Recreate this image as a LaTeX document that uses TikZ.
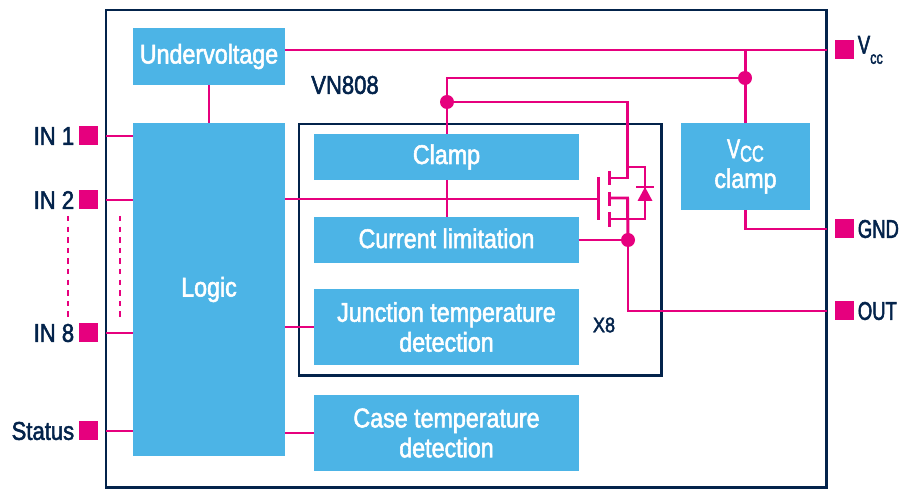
\documentclass[tikz,border=0pt]{standalone}
\usepackage{xcolor}
\usepackage{fontspec}
\usepackage{tikz}
\usetikzlibrary{positioning, fit}
\setmainfont[FakeStretch=0.86,FakeBold=2]{Liberation Sans}
\newfontfamily\capsfont[FakeStretch=0.72,FakeBold=2]{Liberation Sans}
\definecolor{stblue}{HTML}{4CB4E6}
\definecolor{stpink}{HTML}{E6007E}
\definecolor{stnavy}{HTML}{03234B}

\begin{document}
\begin{tikzpicture}[
    x=0.02cm, y=-0.02cm,
    block/.style={rectangle, fill=stblue, text=white, align=center, inner sep=0pt, outer sep=0pt,
                  font=\fontsize{15.4pt}{17pt}\selectfont},
    frame/.style={rectangle, draw=stnavy, line width=1.7pt, inner sep=0pt, outer sep=0pt},
    pad/.style={rectangle, fill=stpink, minimum size=0.38cm, inner sep=0pt, outer sep=0pt},
    pin/.style={text=stnavy, inner sep=0pt, font=\fontsize{14.6pt}{17pt}\selectfont},
    wire/.style={draw=stpink, line width=1.7pt},
    joint/.style={circle, fill=stpink, minimum size=0.28cm, inner sep=0pt, outer sep=0pt},
  ]
  \useasboundingbox (0,0) rectangle (900,489);

  % outer and inner frame
  \node[frame, minimum width=14.42cm, minimum height=9.56cm, anchor=north west] (chip) at (106,10) {};
  \node[frame, minimum width=7.26cm, minimum height=5.04cm, anchor=north west] (channel) at (299,124) {};

  % blocks
  \node[block, minimum width=3.04cm, minimum height=1.14cm] (undervoltage) at (209,56.5) {Undervoltage};
  \node[block, minimum width=3.04cm, minimum height=6.66cm] (logic) at (209,289.5) {Logic};
  \node[block, minimum width=5.3cm, minimum height=0.92cm] (clamp) at (446.5,157) {Clamp};
  \node[block, minimum width=5.3cm, minimum height=0.92cm] (current) at (446.5,240) {\raisebox{2pt}{Current limitation}};
  \node[block, minimum width=5.3cm, minimum height=1.52cm] (junction) at (446.5,327) {Junction temperature\\detection};
  \node[block, minimum width=5.3cm, minimum height=1.52cm] (case) at (446.5,433) {Case temperature\\detection};
  \node[block, minimum width=2.58cm, minimum height=1.74cm] (vccclamp) at (745.5,166.5) {{\capsfont V\raisebox{-0.25ex}{\fontsize{13pt}{15pt}\selectfont CC}}\\clamp};

  \node[pin] (vn) at (345,85) {VN808};
  \node[pin, font=\fontsize{12pt}{14pt}\selectfont] (xeight) at (604,325) {X8};

  % pads and pin names
  \node[pad] (in1) at (88.5,136) {};
  \node[pad] (in2) at (88.5,200) {};
  \node[pad] (in8) at (88.5,333) {};
  \node[pad] (status) at (88.5,431) {};
  \node[pad] (vcc) at (844.5,50) {};
  \node[pad] (gnd) at (844.5,229) {};
  \node[pad] (out) at (844.5,311) {};
  \node[pin, left=0.09cm of in1] (in1name) {IN 1};
  \node[pin, left=0.09cm of in2] (in2name) {IN 2};
  \node[pin, left=0.09cm of in8] (in8name) {IN 8};
  \node[pin, left=0.09cm of status] (statusname) {Status};
  \node[pin, right=0.07cm of vcc] (vccname) {\capsfont V\raisebox{-0.75ex}{\fontsize{10pt}{12pt}\selectfont cc}};
  \node[pin, right=0.07cm of gnd] (gndname) {\capsfont GND};
  \node[pin, right=0.07cm of out] (outname) {\capsfont OUT};

  % joints
  \node[joint] (jvcc) at (745,78) {};
  \node[joint] (jclamp) at (447,102) {};
  \node[joint] (jout) at (628,240) {};

  % wires
  \draw[wire] (in1 -| chip.west) -- (in1 -| logic.west);
  \draw[wire] (in2 -| chip.west) -- (in2 -| logic.west);
  \draw[wire] (in8 -| chip.west) -- (in8 -| logic.west);
  \draw[wire] (status -| chip.west) -- (status -| logic.west);
  \draw[wire] (undervoltage) -- (logic);
  \draw[wire] (vcc -| undervoltage.east) -- (vcc -| chip.east);
  \draw[wire] (vcc -| vccclamp.north) -- (vccclamp.north);
  \draw[wire] (jvcc.center) -| (clamp.north -| jclamp);
  \draw[wire] (clamp.south -| jclamp) -- (current.north -| jclamp);
  \draw[wire] (vccclamp.south) |- (gnd -| chip.east);
  \draw[wire] (current.east) -- (jout.center);
  \draw[wire] (jout.center) |- (out -| chip.east);
  \draw[wire] (junction.west -| logic.east) -- (junction.west);
  \draw[wire] (case.west -| logic.east) -- (case.west);
  \draw[wire, dash pattern=on 0.11cm off 0.102cm] (68,216) -- (68,318);
  \draw[wire, dash pattern=on 0.11cm off 0.102cm] (120,216) -- (120,318);

  % transistor
  \draw[wire] (logic.east |- 0,199) -- (598.5,199);
  \draw[wire] (598.5,177) -- (598.5,220);
  \draw[wire] (609.5,171) -- (609.5,185);
  \draw[wire] (609.5,192) -- (609.5,206);
  \draw[wire] (609.5,212) -- (609.5,227);
  \draw[wire] (jclamp.center) -| (627.5,178) -- (609.5,178);
  \draw[wire] (609.5,198) -- (627.5,198) -- (jout.center);
  \draw[wire] (609.5,219) -- (645,219) -- (645,167) -- (627.5,167);
  \draw[wire] (636,187) -- (654,187);
  \fill[stpink] (645,187) -- (652.5,201) -- (637.5,201) -- cycle;
\end{tikzpicture}
\end{document}
